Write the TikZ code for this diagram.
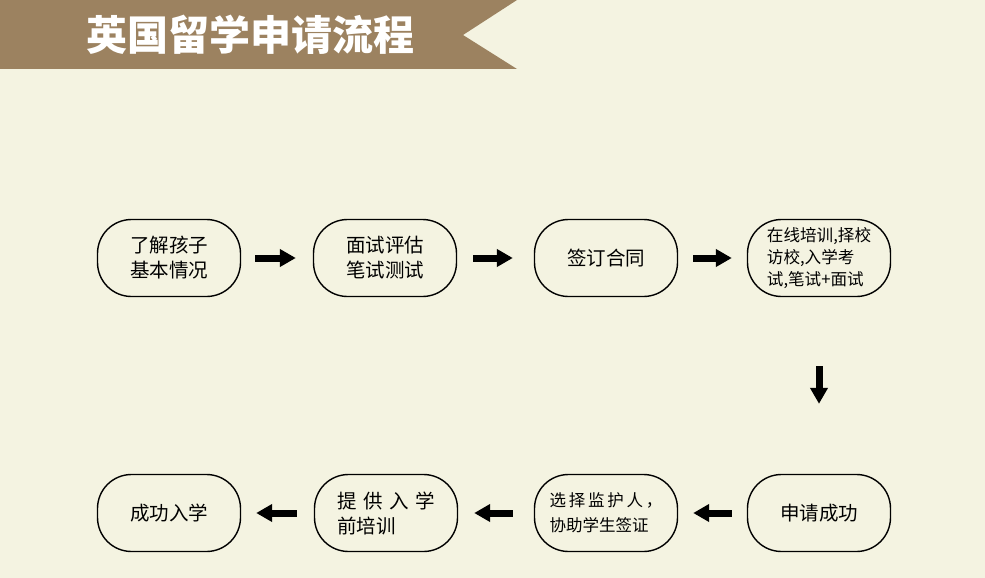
\documentclass[tikz,border=0pt]{standalone}
\usepackage{fontspec}
\setmainfont{Noto Sans CJK SC}
\usetikzlibrary{arrows.meta}
\definecolor{bg}{HTML}{F4F3E1}
\definecolor{banner}{HTML}{9C8260}
\begin{document}
\begin{tikzpicture}[x=1pt,y=-1pt,
  box/.style={draw, line width=1.4pt, rounded corners=34pt, minimum width=143pt, minimum height=77pt, align=center, inner sep=0pt, font=\fontsize{19.5}{25}\selectfont},
  fat/.style={-{Triangle[length=16pt,width=17pt]}, line width=7pt}]
\fill[bg] (0,0) rectangle (985,578);
\useasboundingbox (0,0) rectangle (985,578);
\fill[banner] (0,0) -- (517,0) -- (463,35) -- (517,69) -- (0,69) -- cycle;
\node[text=white, font=\fontsize{41}{44}\selectfont\bfseries] (title) at (250,35) {英国留学申请流程};
% row 1
\node[box] (n1) at (169,258) {了解孩子\\基本情况};
\node[box] (n2) at (385,258) {面试评估\\笔试测试};
\node[box] (n3) at (606,258) {签订合同};
\node[box, align=left, font=\fontsize{16.6}{22}\selectfont] (n4) at (819,258) {在线培训,择校\\访校,入学考\\试,笔试+面试};
% row 2
\node[box] (m4) at (819,513) {申请成功};
\node[box, align=left, font=\fontsize{16.5}{25}\selectfont] (m3) at (606,513) {选\,择\,监\,护\,人\,，\\协助学生签证};
\node[box, align=left] (m2) at (386,513) {提\,\,供\,\,入\,\,学\\前培训};
\node[box] (m1) at (169,513) {成功入学};
% arrows
\draw[fat, shorten <=14pt, shorten >=17pt] (n1.east) -- (n2.west);
\draw[fat, shorten <=16pt, shorten >=21pt] (n2.east) -- (n3.west);
\draw[fat, shorten <=15pt, shorten >=15pt] (n3.east) -- (n4.west);
\draw[fat, shorten <=69pt, shorten >=70pt] (n4.south) -- (m4.north);
\draw[fat, shorten <=15pt, shorten >=15pt] (m4.west) -- (m3.east);
\draw[fat, shorten <=21pt, shorten >=16pt] (m3.west) -- (m2.east);
\draw[fat, shorten <=17pt, shorten >=15pt] (m2.west) -- (m1.east);
\end{tikzpicture}
\end{document}
